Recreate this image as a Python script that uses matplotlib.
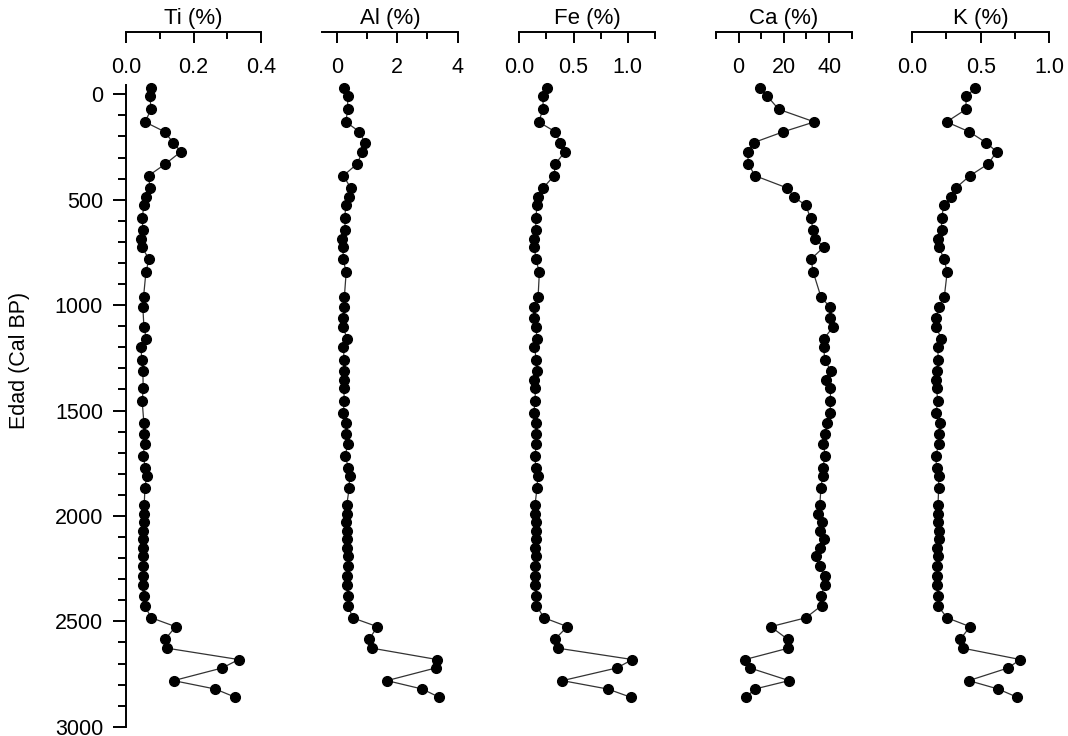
import matplotlib
matplotlib.use("Agg")
import matplotlib.pyplot as plt
import numpy as np

plt.rcParams['font.family'] = ['Liberation Sans', 'DejaVu Sans']

# Ages (Cal BP)
age = [-28, 9, 71, 131, 178, 229, 272, 330, 386, 445, 486, 527, 587, 642, 685, 724, 782, 844,
       961, 1011, 1060, 1102, 1159, 1199, 1258, 1312, 1356, 1395, 1457, 1512, 1560, 1613, 1658,
       1714, 1771, 1812, 1868, 1947, 1989, 2029, 2069, 2108, 2150, 2190, 2235, 2284, 2327, 2380,
       2425, 2483, 2525, 2585, 2627, 2681, 2721, 2781, 2821, 2860]

ti = [0.074, 0.070, 0.075, 0.056, 0.115, 0.139, 0.163, 0.117, 0.067, 0.071, 0.059, 0.053, 0.048,
      0.050, 0.045, 0.047, 0.068, 0.059,
      0.052, 0.050, None, 0.053, 0.060, 0.044, 0.047, 0.050, None, 0.051, 0.048, None, 0.053,
      0.053, 0.055, 0.051, 0.057, 0.061, 0.056, 0.054, 0.053, 0.052,
      0.049, 0.049, 0.049, 0.049, 0.049, 0.049, 0.049, 0.052, 0.055, 0.075, 0.147, 0.116, 0.121,
      0.334, 0.285, 0.141, 0.265, 0.324]

al = [0.25, 0.36, 0.36, 0.30, 0.75, 0.93, 0.85, 0.67, 0.22, 0.46, 0.40, 0.30, 0.26, 0.28, 0.18,
      0.21, 0.21, 0.31,
      0.25, 0.23, 0.22, 0.20, 0.34, 0.22, 0.24, 0.23, 0.23, 0.23, 0.25, 0.21, 0.32, 0.32, 0.36,
      0.28, 0.38, 0.42, 0.41, 0.33, 0.34, 0.32,
      0.35, 0.35, 0.35, 0.38, 0.36, 0.35, 0.33, 0.36, 0.38, 0.52, 1.34, 1.07, 1.16, 3.32, 3.27,
      1.66, 2.83, 3.39]

fe = [0.258, 0.219, 0.219, 0.178, 0.332, 0.376, 0.422, 0.332, 0.320, 0.219, 0.176, 0.164, 0.152,
      0.152, 0.133, 0.139, 0.152, 0.185,
      0.173, 0.138, 0.133, 0.157, 0.160, 0.138, 0.157, 0.163, 0.138, 0.148, 0.145, 0.133, 0.157,
      0.151, 0.157, 0.145, 0.151, 0.170, 0.163, 0.145, 0.148, 0.151,
      0.151, 0.151, 0.142, 0.151, 0.148, 0.148, 0.148, 0.157, 0.157, 0.228, 0.443, 0.327, 0.354,
      1.042, 0.898, 0.397, 0.816, 1.028]

ca = [9.3, 12.7, 17.7, 33.5, 19.7, 6.7, 4.0, 4.3, 7.2, 21.6, 24.4, 29.7, 31.8, 33.0, 33.7, 37.7,
      32.0, 33.0,
      36.4, 40.5, 40.5, 41.9, 37.7, 37.7, 38.0, 40.8, 38.6, 40.6, 40.6, 40.5, 38.9, 38.3, 37.3,
      38.4, 37.1, 37.1, 36.4, 35.9, 34.9, 36.8,
      36.1, 37.7, 35.8, 34.1, 35.8, 38.2, 38.0, 36.5, 36.7, 29.7, 14.2, 21.7, 22.0, 2.8, 5.0,
      22.3, 7.1, 3.4]

k = [0.461, 0.393, 0.393, 0.251, 0.417, 0.539, 0.617, 0.556, 0.422, 0.317, 0.283, 0.231, 0.214,
     0.214, 0.185, 0.194, 0.233, 0.255,
     0.234, 0.193, 0.173, 0.173, 0.212, 0.186, 0.190, 0.183, 0.176, 0.178, 0.186, 0.173, 0.200,
     0.195, 0.195, 0.171, 0.178, 0.193, 0.193, 0.188, 0.186, 0.190,
     0.198, 0.193, 0.178, 0.186, 0.181, 0.181, 0.181, 0.186, 0.186, 0.254, 0.422, 0.351, 0.369,
     0.790, 0.700, 0.413, 0.629, 0.768]

titles = ["Ti (%)", "Al (%)", "Fe (%)", "Ca (%)", "K (%)"]
series = [ti, al, fe, ca, k]
xlims = [(0, 0.4), (-0.48, 4), (0, 1.25), (-10, 50), (0, 1.0)]
major_ticks = [[0, 0.2, 0.4], [0, 2, 4], [0, 0.5, 1.0], [0, 20, 40], [0, 0.5, 1.0]]
major_labels = [["0.0", "0.2", "0.4"], ["0", "2", "4"], ["0.0", "0.5", "1.0"],
                ["0", "20", "40"], ["0.0", "0.5", "1.0"]]
minor_ticks = [[0.1, 0.3], [1, 3], [0.25, 0.75, 1.25], [-10, 10, 30, 50], [0.25, 0.75]]

W, H = 1068, 736
fig = plt.figure(figsize=(W / 100, H / 100), dpi=100)

panel_px = [(126, 261), (322.3, 457.7), (519.3, 655), (716, 851.7), (912.3, 1049)]
top_px, bot_px = 84.8, 726.8
ax_h = (bot_px - top_px) / H
ax_b = 1 - bot_px / H
spine_pos = 1 + (top_px - 32.3) / (bot_px - top_px)

age_arr = np.array(age, dtype=float)
for i, (l, r) in enumerate(panel_px):
    ax = fig.add_axes([l / W, ax_b, (r - l) / W, ax_h])
    vals = np.array([np.nan if v is None else v for v in series[i]], dtype=float)
    m = ~np.isnan(vals)
    ax.plot(vals[m], age_arr[m], '-', color='#333333', lw=0.9, zorder=2, clip_on=False)
    ax.plot(vals[m], age_arr[m], 'o', color='black', ms=7, zorder=3, clip_on=False)
    ax.set_xlim(*xlims[i])
    ax.set_ylim(3000, -45)

    for s in ['top', 'right']:
        ax.spines[s].set_visible(False)
    ax.spines['bottom'].set_position(('axes', spine_pos))
    ax.spines['bottom'].set_linewidth(1.4)
    ax.xaxis.set_ticks_position('bottom')
    ax.set_xticks(major_ticks[i])
    ax.set_xticklabels(major_labels[i])
    ax.set_xticks(minor_ticks[i], minor=True)
    ax.tick_params(axis='x', which='major', direction='out', length=8, width=1.4,
                   labelsize=15.5, pad=10)
    ax.tick_params(axis='x', which='minor', direction='out', length=5, width=1.4)
    ax.text(0.5, 1 + (top_px - 18.5) / (bot_px - top_px), titles[i], transform=ax.transAxes,
            ha='center', va='center', fontsize=16)

    if i == 0:
        ax.spines['left'].set_linewidth(1.4)
        ax.set_yticks([0, 500, 1000, 1500, 2000, 2500, 3000])
        ax.set_yticks(np.arange(0, 3001, 100), minor=True)
        ax.tick_params(axis='y', which='major', direction='out', length=9.5, width=1.4,
                       labelsize=15.5, pad=7)
        ax.tick_params(axis='y', which='minor', direction='out', length=6, width=1.4)
    else:
        ax.spines['left'].set_visible(False)
        ax.set_yticks([])
    ax.patch.set_visible(False)

fig.text(20 / W, 1 - 360 / H, "Edad (Cal BP)", rotation=90, ha='center', va='center',
         fontsize=15.5)

fig.savefig("out.png", dpi=100)
